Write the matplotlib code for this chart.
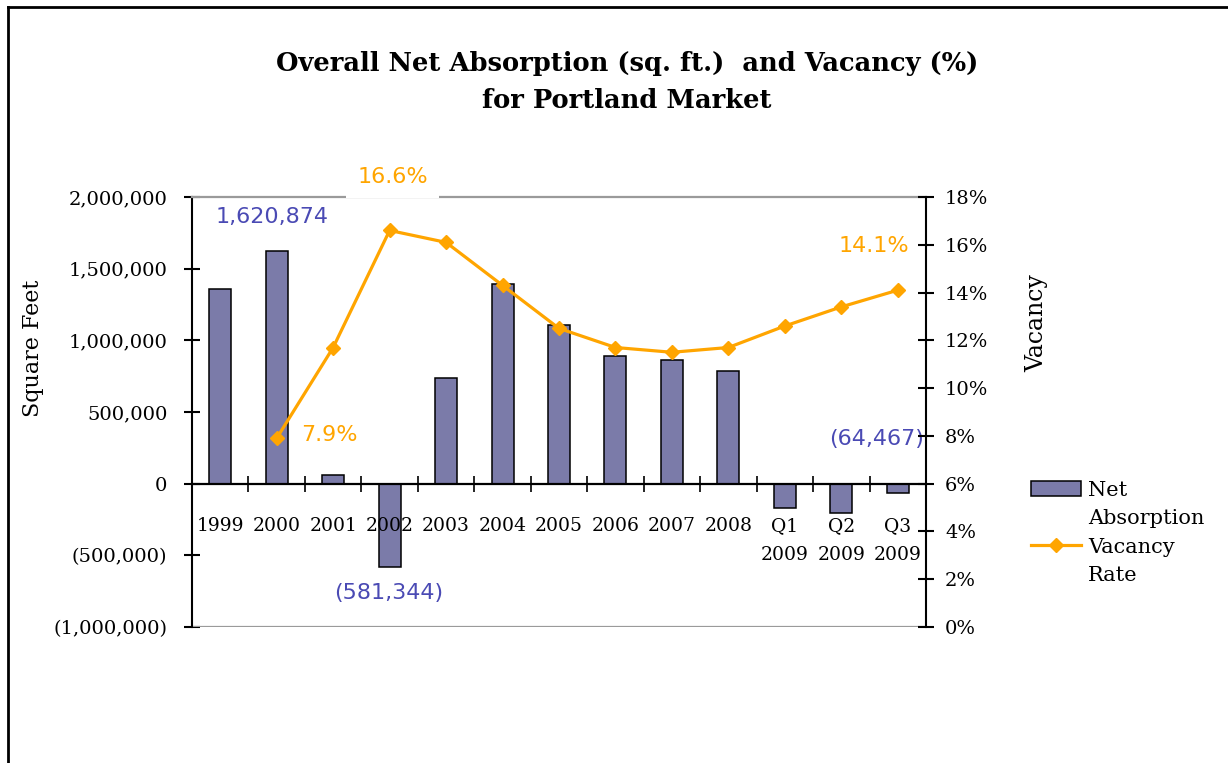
import numpy as np
import matplotlib
matplotlib.use("Agg")
import matplotlib.pyplot as plt
from matplotlib.lines import Line2D
from matplotlib.patches import Patch
from matplotlib.ticker import FuncFormatter, MultipleLocator

# data
categories = ["1999", "2000", "2001", "2002", "2003", "2004", "2005",
              "2006", "2007", "2008", "Q1\n2009", "Q2\n2009", "Q3\n2009"]
net_absorption = [1357000, 1620874, 59000, -581344, 738000, 1394000, 1105000,
                  889000, 864000, 789000, -167000, -207000, -64467]
vacancy_rate = [np.nan, 7.9, 11.7, 16.6, 16.1, 14.3, 12.5,
                11.7, 11.5, 11.7, 12.6, 13.4, 14.1]

BAR = "#7B7BA9"
ORANGE = "#FFA500"
BLUE_TXT = "#4A4AB4"
GRAY = "#9A9A9A"

plt.rcParams["font.family"] = ["DejaVu Serif"]
plt.rcParams["font.size"] = 13.5

fig = plt.figure(figsize=(12.28, 7.63), dpi=100)
ax = fig.add_axes([192 / 1228, 1 - 627 / 763, 734 / 1228, 430 / 763])
ax2 = ax.twinx()

x = np.arange(len(categories))
ax.bar(x, net_absorption, width=0.39, color=BAR, edgecolor="black",
       linewidth=1.1, zorder=3)
ax.set_xlim(-0.5, len(categories) - 0.5)
ax.set_ylim(-1000000, 2000000)
ax.yaxis.set_major_locator(MultipleLocator(500000))
ax.yaxis.set_major_formatter(FuncFormatter(
    lambda v, p: f"{v:,.0f}" if v >= 0 else f"({-v:,.0f})"))

# category axis sits on zero, tick marks between categories
ax.spines["bottom"].set_position(("data", 0))
ax.spines["bottom"].set_linewidth(1.6)
ax.spines["bottom"].set_zorder(4)
ax.xaxis.set_zorder(5)
ax.set_xticks(x)
ax.set_xticklabels(categories)
for lbl in ax.get_xticklabels():
    lbl.set_linespacing(1.75)
ax.set_xticks(np.arange(0.5, len(categories) - 1, 1), minor=True)
ax.tick_params(axis="x", which="major", length=0, pad=24)
ax.tick_params(axis="x", which="minor", direction="inout", length=11.5, width=1.2)
ax.tick_params(axis="y", direction="inout", length=11.5, width=1.5, pad=12,
               labelsize=14)

# plot area border: gray top and bottom
ax.spines["top"].set_color(GRAY)
ax.spines["top"].set_linewidth(1.6)
ax.axhline(ax.get_ylim()[0], color=GRAY, linewidth=1.6, zorder=2)
ax.spines["left"].set_linewidth(1.5)
ax.spines["right"].set_visible(False)

ax2.plot(x, vacancy_rate, color=ORANGE, linewidth=2.3, marker="D",
         markersize=7.5, zorder=5)
ax2.set_ylim(0, 18)
ax2.yaxis.set_major_locator(MultipleLocator(2))
ax2.yaxis.set_major_formatter(FuncFormatter(lambda v, p: f"{v:.0f}%"))
ax2.tick_params(axis="y", direction="inout", length=11.5, width=1.5, pad=8,
                labelsize=14)
ax2.spines["right"].set_linewidth(1.5)
for s in ["top", "bottom", "left"]:
    ax2.spines[s].set_visible(False)

# data labels
lbl_font = dict(family="DejaVu Sans", fontsize=16)
ax.annotate(f"{net_absorption[1]:,}", (x[1], net_absorption[1]),
            xytext=(-3, 25), textcoords="offset points", ha="center",
            va="center", color=BLUE_TXT, **lbl_font)
ax.annotate(f"({-net_absorption[3]:,})", (x[3], net_absorption[3]),
            xytext=(-1, -19), textcoords="offset points", ha="center",
            va="center", color=BLUE_TXT, **lbl_font)
ax.annotate(f"({-net_absorption[12]:,})", (x[12], net_absorption[12]),
            xytext=(-15, 39), textcoords="offset points", ha="center",
            va="center", color=BLUE_TXT, **lbl_font)
ax2.annotate(f"{vacancy_rate[1]:.1f}%", (x[1], vacancy_rate[1]),
             xytext=(38, 2), textcoords="offset points", ha="center",
             va="center", color=ORANGE, **lbl_font)
ax2.annotate(f"{vacancy_rate[3]:.1f}%", (x[3], vacancy_rate[3]),
             xytext=(2, 38.5), textcoords="offset points", ha="center",
             va="center", color=ORANGE, zorder=6, annotation_clip=False,
             bbox=dict(boxstyle="square,pad=0.5", fc="white", ec="none"),
             **lbl_font)
ax2.annotate(f"{vacancy_rate[12]:.1f}%", (x[12], vacancy_rate[12]),
             xytext=(-17, 31.5), textcoords="offset points", ha="center",
             va="center", color=ORANGE, **lbl_font)

# axis titles
fig.text(33 / 1228, 1 - 348 / 763, "Square Feet", rotation=90,
         ha="center", va="center", fontsize=16)
fig.text(1037 / 1228, 1 - 323 / 763, "Vacancy", rotation=90,
         ha="center", va="center", fontsize=17)

# title
fig.text(627 / 1228, 1 - 63 / 763,
         "Overall Net Absorption (sq. ft.)  and Vacancy (%)",
         ha="center", va="center", fontsize=18.5, fontweight="bold")
fig.text(627 / 1228, 1 - 100 / 763, "for Portland Market",
         ha="center", va="center", fontsize=18.5, fontweight="bold")

# legend, one row per text line
blank = Patch(facecolor="none", edgecolor="none")
handles = [Patch(facecolor=BAR, edgecolor="black", linewidth=1.1), blank,
           Line2D([], [], color=ORANGE, linewidth=2.3, marker="D",
                  markersize=7.5), blank]
fig.legend(handles, ["Net", "Absorption", "Vacancy", "Rate"],
           loc="upper left", bbox_to_anchor=(1031 / 1228, 1 - 481 / 763),
           frameon=False, handlelength=2.4, handletextpad=0.35,
           labelspacing=0.45, borderaxespad=0, borderpad=0, fontsize=15)

# outer frame (only left and top edges are in view)
fig.add_artist(Line2D([8 / 1228, 8 / 1228], [0, 1 - 7 / 763],
                      transform=fig.transFigure, color="black", linewidth=2))
fig.add_artist(Line2D([8 / 1228, 1], [1 - 7 / 763, 1 - 7 / 763],
                      transform=fig.transFigure, color="black", linewidth=2))

fig.savefig("out.png", dpi=100)
